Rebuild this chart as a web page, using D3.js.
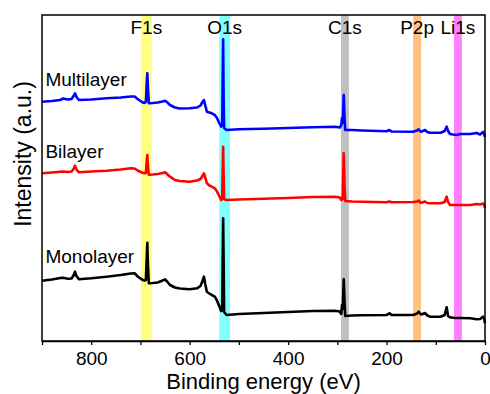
<!DOCTYPE html>
<html><head><meta charset="utf-8">
<script src="https://cdn.jsdelivr.net/npm/d3@7"></script>
<style>
html,body{margin:0;padding:0;background:#fff;}
text{font-family:Arial,"Liberation Sans",sans-serif;fill:#000;}
</style></head>
<body><svg id="chart" width="490" height="394"></svg>
<script>
// Binding energy (eV) of each sampled point (shared by all spectra)
const energy = [900,880,863,857,848,840,836,833,830,825,800,769,740,720,712,705,697,692,689,687,686,685,683,675,665,655,650,645,640,630,620,600,585,578,574,571,568,565,560,555,549,545,540,536,534,532,531,530,525,500,450,400,350,305,295,292,290.5,289,287,285.5,284,270,250,200,194,190,146,138,135,131,129,122,117,112,90,82,78,75,71,65,58,50,30,17,10,4,2,0];

// Intensity (a.u., offset stacked)
const multilayer = [239.3,240,241,242.5,241.5,242,245,247.7,244,241,241.5,242.7,243.5,244.5,244.5,241.7,239,238,239,261,267.7,256,237.7,238,238.5,239.5,240.3,238.5,236,233.5,232.5,232.7,233.5,235.5,239,241,235,229.3,228.5,227.7,226,223.5,218,214.3,216,301.7,241,213,211,211.7,212.2,213,213.7,214.3,213.5,216,223,218,246,225,211,211,210.5,209.7,211,209.5,209.3,210.5,211.7,209.5,209.3,211,209,208.3,208.3,210,214.3,210,207,206.5,206,207,207,208,206.5,209,207,204];
const bilayer = [167.7,168.5,169.3,169.5,169,169.5,172,175.3,171.5,168.7,169.5,170.3,171.5,172.7,172.5,170.3,168.5,167.7,168,181,186,176,166.3,166.5,167,168,168.7,166.5,164.3,161,160,159.3,160.5,162,165,167.7,163,157.7,155.5,154.3,152.7,150,145,141,142,194.3,166,142,141,141.5,142.2,143,144,144.3,143.5,141,143,142,187.7,156,140,139.5,139.2,138.7,139.5,138.7,139,139.5,140.5,138.5,138.3,139.5,138,137.7,137.7,139,144.3,139,136,136,136,136,136,137,136.5,137.5,136.7,133];
const monolayer = [60.3,61.5,63,63.3,62.3,62.5,65.5,69.3,65,61.7,62.7,64.3,66,67.5,67.7,64.3,61.5,60.3,61,86,98.3,79,57.7,58,58.5,60.5,61.7,59,56,53.5,52.5,51.7,52.7,55,60,64.3,56,49.3,47.5,46,44.3,41,35,30,31,122.7,81,29,26,27,28,29,30,30.3,29.5,27,36,32,61.7,41,25,25.5,25.7,26,27.7,26,26,27.5,29.3,27,26.5,28,25.5,24.3,24.3,26,33.7,25,23.7,23.2,23,23,22.7,21.7,22,24.3,23,17.7];

const seriesNames = ["Monolayer","Bilayer","Multilayer"];
const seriesColors = ["#000000","#ff0000","#0000ff"];
const seriesLabelAt = [[893,78],[893,183],[893,255]]; // [eV, intensity] of label baseline start

// Element reference bands: name, centre (eV), half width (eV)
const bandNames = ["F1s","O1s","C1s","P2p","Li1s"];
const bandCenters = [688,529,284.5,138,55];
const bandHalfWidths = [11,11,8,8,8];
const bandColors = ["#ffff80","#80ffff","#c0c0c0","#ffc080","#ff80ff"];

const xTicks = [900,800,700,600,500,400,300,200,100,0];
const xTickLabels = [800,600,400,200,0];

const W=490,H=394, m={l:42,r:5,t:15,b:53};
const svg=d3.select("#chart");
const x=d3.scaleLinear().domain([900,0]).range([m.l,W-m.r]);
const y=d3.scaleLinear().domain([0,326]).range([H-m.b,m.t]);

// bands
svg.append("g").selectAll("rect").data(bandNames).join("rect")
  .attr("x",(d,i)=>x(bandCenters[i]+bandHalfWidths[i]))
  .attr("width",(d,i)=>x(bandCenters[i]-bandHalfWidths[i])-x(bandCenters[i]+bandHalfWidths[i]))
  .attr("y",m.t).attr("height",H-m.b-m.t)
  .attr("fill",(d,i)=>bandColors[i]);

svg.append("g").selectAll("text").data(bandNames).join("text")
  .attr("x",(d,i)=>x(bandCenters[i])).attr("y",34)
  .attr("text-anchor","middle").style("font-size","19px").text(d=>d);

// spectra
const data=[monolayer,bilayer,multilayer];
const line=d3.line().x((d,i)=>x(energy[i])).y(d=>y(d));
svg.append("g").selectAll("path").data(data).join("path")
  .attr("d",d=>line(d)).attr("fill","none")
  .attr("stroke",(d,i)=>seriesColors[i]).attr("stroke-width",2.6)
  .attr("stroke-linejoin","round");

svg.append("g").selectAll("text").data(seriesNames).join("text")
  .attr("x",(d,i)=>x(seriesLabelAt[i][0])).attr("y",(d,i)=>y(seriesLabelAt[i][1]))
  .style("font-size","19px").text(d=>d);

// frame
svg.append("rect").attr("x",m.l).attr("y",m.t).attr("width",W-m.r-m.l).attr("height",H-m.b-m.t)
  .attr("fill","none").attr("stroke","#000").attr("stroke-width",1.5);

// x axis
const ax=svg.append("g").attr("transform",`translate(0,${H-m.b})`)
  .call(d3.axisBottom(x).tickValues(xTicks).tickSize(4).tickSizeOuter(0)
    .tickFormat(d=>xTickLabels.includes(d)?d:""));
ax.select(".domain").attr("stroke-width",1.5);
ax.selectAll(".tick line").attr("stroke-width",1.3);
ax.selectAll("text").style("font-size","19px").attr("dy",0).attr("y",23.5).style("font-family","Arial, 'Liberation Sans', sans-serif");

svg.append("text").attr("x",(m.l+W-m.r)/2).attr("y",389).attr("text-anchor","middle")
  .style("font-size","22px").text("Binding energy (eV)");
svg.append("text").attr("transform","translate(31,154) rotate(-90)").attr("text-anchor","middle")
  .style("font-size","23px").text("Intensity (a.u.)");
</script></body></html>
